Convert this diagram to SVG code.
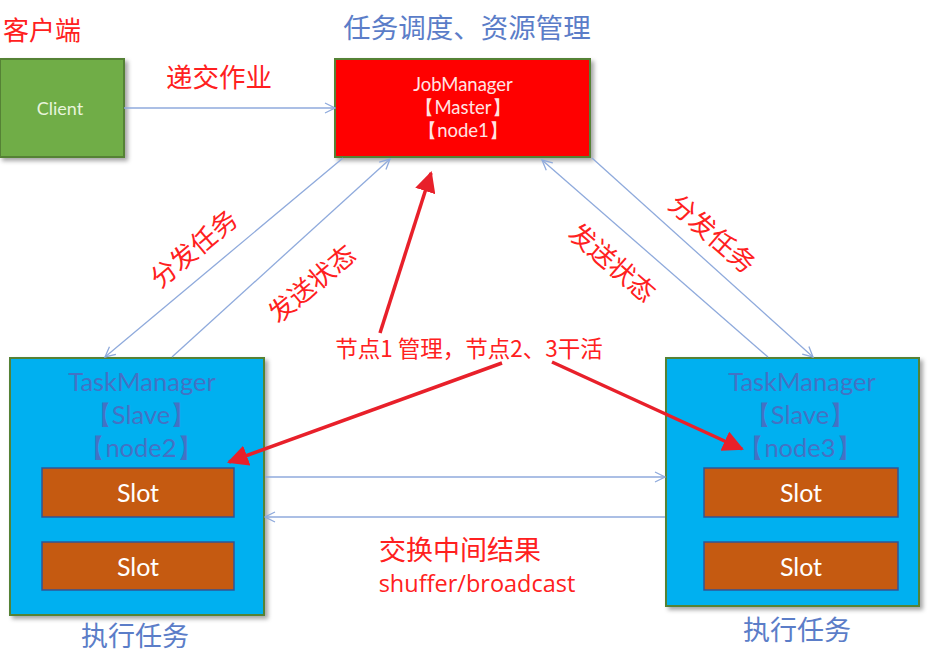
<svg xmlns="http://www.w3.org/2000/svg" width="939" height="672" viewBox="0 0 939 672">
<defs>
<filter id="sh" x="-10%" y="-10%" width="130%" height="130%"><feDropShadow dx="3" dy="3" stdDeviation="2" flood-color="#000" flood-opacity="0.35"/></filter>
<marker id="ob" viewBox="0 0 12 12" refX="11" refY="6" markerWidth="12" markerHeight="12" markerUnits="userSpaceOnUse" orient="auto"><path d="M1,1 L11,6 L1,11" fill="none" stroke="#8FAADC" stroke-width="1.3"/></marker>
<marker id="rd" viewBox="0 0 10 10" refX="9" refY="5" markerWidth="6" markerHeight="6" orient="auto"><path d="M0,0 L10,5 L0,10 Z" fill="#E8202A"/></marker>
</defs>
<style>
.box{stroke:#548235;stroke-width:2;filter:url(#sh)}
.slot{fill:#C55A11;stroke:#2F5597;stroke-width:1.5}
.en{font-family:Lato,"Open Sans","Noto Sans",sans-serif;text-anchor:middle}
.cn{font-family:"Noto Sans CJK SC","Noto Sans",sans-serif;text-anchor:middle}
.red{fill:#FF2020}
.bl{stroke:#8FAADC;stroke-width:1.3;fill:none;marker-end:url(#ob)}
.ra{stroke:#E8202A;stroke-width:3.5;fill:none;marker-end:url(#rd)}
</style>
<rect width="939" height="672" fill="#fff"/>
<g id="labels">
<text class="cn red" x="42" y="40" font-size="26">客户端</text>
<text class="cn" x="467" y="38" font-size="27.5" fill="#5B7DC8">任务调度、资源管理</text>
<text class="cn red" x="219" y="87" font-size="26.5">递交作业</text>
<text class="cn red" transform="translate(194,249) rotate(-40)" font-size="26" y="9">分发任务</text>
<text class="cn red" transform="translate(312,284) rotate(-40)" font-size="26" y="9">发送状态</text>
<text class="cn red" transform="translate(712,234) rotate(41)" font-size="26" y="9">分发任务</text>
<text class="cn red" transform="translate(612,263) rotate(41)" font-size="26" y="9">发送状态</text>
<text class="cn red" x="469" y="357" font-size="22.5">节点1 管理，节点2、3干活</text>
<text class="cn red" x="460" y="560" font-size="27">交换中间结果</text>
<text class="en red" x="477" y="592" font-size="23.5" style="font-family:'Open Sans',Lato,sans-serif">shuffer/broadcast</text>
<text class="cn" x="135" y="646" font-size="27" fill="#5B7DC8">执行任务</text>
<text class="cn" x="797" y="640" font-size="27" fill="#5B7DC8">执行任务</text>
</g>
<g id="client">
<rect class="box" x="0" y="59" width="124" height="98" fill="#70AD47"/>
<text class="en" x="60" y="115" font-size="18" fill="#E8F4DC">Client</text>
</g>
<g id="jobmanager">
<rect class="box" x="335" y="59" width="255" height="98" fill="#FF0000"/>
<text class="en" x="463" y="91" font-size="18.5" fill="#FFE4E4">JobManager</text>
<text class="en" x="463" y="114" font-size="18.5" fill="#FFE4E4">【Master】</text>
<text class="en" x="463" y="137" font-size="18.5" fill="#FFE4E4">【node1】</text>
</g>
<g id="tm2">
<rect class="box" x="10" y="358" width="254" height="257" fill="#00B0F0"/>
<text class="en" x="142" y="391" font-size="25.5" fill="#4472C4">TaskManager</text>
<text class="en" x="141" y="424" font-size="25.5" fill="#4472C4">【Slave】</text>
<text class="en" x="141" y="457" font-size="25.5" fill="#4472C4">【node2】</text>
<rect class="slot" x="42" y="468" width="192" height="49"/>
<text class="en" x="138" y="502" font-size="25" fill="#fff">Slot</text>
<rect class="slot" x="42" y="542" width="192" height="48"/>
<text class="en" x="138" y="576" font-size="25" fill="#fff">Slot</text>
</g>
<g id="tm3">
<rect class="box" x="666" y="358" width="253" height="248" fill="#00B0F0"/>
<text class="en" x="802" y="391" font-size="25.5" fill="#4472C4">TaskManager</text>
<text class="en" x="800" y="424" font-size="25.5" fill="#4472C4">【Slave】</text>
<text class="en" x="800" y="457" font-size="25.5" fill="#4472C4">【node3】</text>
<rect class="slot" x="704" y="468" width="194" height="49"/>
<text class="en" x="801" y="502" font-size="25" fill="#fff">Slot</text>
<rect class="slot" x="704" y="542" width="194" height="48"/>
<text class="en" x="801" y="576" font-size="25" fill="#fff">Slot</text>
</g>
<g id="connectors">
<line class="bl" x1="124" y1="108" x2="335" y2="108"/>
<line class="bl" x1="343" y1="158" x2="105" y2="357"/>
<line class="bl" x1="172" y1="357" x2="390" y2="159"/>
<line class="bl" x1="768" y1="357" x2="542" y2="160"/>
<line class="bl" x1="592" y1="158" x2="813" y2="357"/>
<line class="bl" x1="265" y1="477" x2="665" y2="477"/>
<line class="bl" x1="665" y1="517" x2="265" y2="517"/>
<line class="ra" x1="380" y1="333" x2="431" y2="173"/>
<line class="ra" x1="502" y1="363" x2="229" y2="462"/>
<line class="ra" x1="552" y1="362" x2="742" y2="449"/>
</g>
</svg>
